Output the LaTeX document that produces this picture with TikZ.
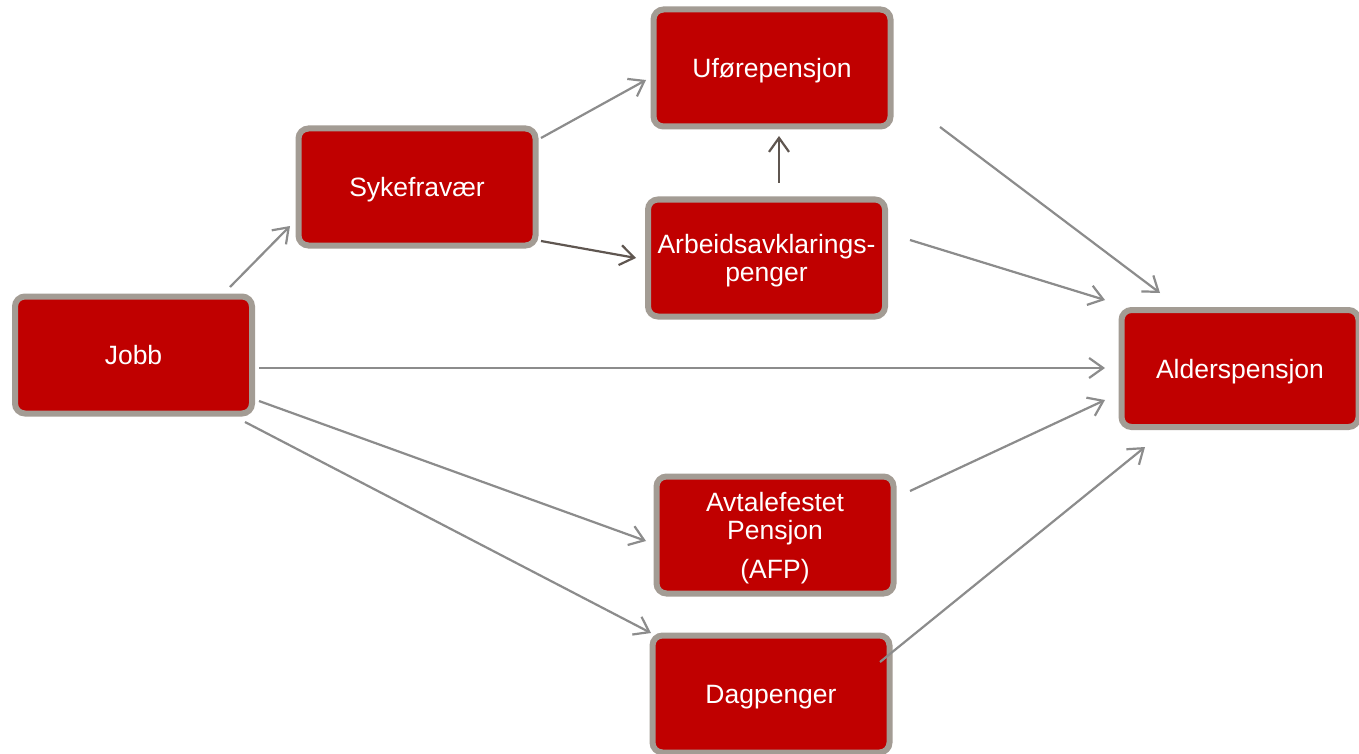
\documentclass[tikz,border=0pt]{standalone}
\usepackage{fontspec}
\setmainfont{Liberation Sans}
\usetikzlibrary{arrows.meta}
\definecolor{boxred}{HTML}{C00000}
\definecolor{boxborder}{HTML}{A39C94}
\definecolor{arrgray}{HTML}{8C8C8C}
\definecolor{arrdark}{HTML}{5F5650}
\begin{document}
\begin{tikzpicture}[x=1pt,y=-1pt,
  box/.style={draw=boxborder, line width=6pt, fill=boxred, rounded corners=10pt,
    minimum width=237pt, minimum height=117pt, inner sep=0pt, text depth=0pt,
    text=white, align=center, font=\fontsize{26.5}{28}\selectfont},
  conn/.style={draw=arrgray, line width=2.2pt, -{Straight Barb[length=14pt,width=20pt,line width=2.2pt]}},
  conndark/.style={conn, draw=arrdark}
]
\useasboundingbox (0,0) rectangle (1359,754);
\fill[white] (0,0) rectangle (1359,754);

\node[box] (ufore) at (772,68) {Uførepensjon};
\node[box] (syke) at (417,187) {Sykefravær};
\node[box] (aap) at (766.5,258) {Arbeidsavklarings-\\penger};
\node[box] (jobb) at (133.5,355) {Jobb};
\node[box] (alder) at (1240,368.5) {Alderspensjon};
\node[box] (afp) at (775,535) {Avtalefestet\\Pensjon\\[11pt](AFP)};
\node[box] (dag) at (771,694) {Dagpenger};

\coordinate (c1a) at (230,287);  \coordinate (c1b) at (290,226);
\coordinate (c2a) at (541,138);  \coordinate (c2b) at (646,80);
\coordinate (c3a) at (541,241);  \coordinate (c3b) at (636,258);
\coordinate (c4a) at (779,183);  \coordinate (c4b) at (779,136);
\coordinate (c5a) at (940,127);  \coordinate (c5b) at (1160,293);
\coordinate (c6a) at (910,240);  \coordinate (c6b) at (1105,300);
\coordinate (c7a) at (259,368);  \coordinate (c7b) at (1105,368);
\coordinate (c8a) at (259,401);  \coordinate (c8b) at (646,541);
\coordinate (c9a) at (245,422);  \coordinate (c9b) at (651,633);
\coordinate (c10a) at (910,491); \coordinate (c10b) at (1105,400);
\coordinate (c11a) at (880,662); \coordinate (c11b) at (1145,447);

\draw[conn] (c1a) -- (c1b);
\draw[conn] (c2a) -- (c2b);
\draw[conndark] (c3a) -- (c3b);
\draw[conndark] (c4a) -- (c4b);
\draw[conn] (c5a) -- (c5b);
\draw[conn] (c6a) -- (c6b);
\draw[conn] (c7a) -- (c7b);
\draw[conn] (c8a) -- (c8b);
\draw[conn] (c9a) -- (c9b);
\draw[conn] (c10a) -- (c10b);
\draw[conn] (c11a) -- (c11b);
\end{tikzpicture}
\end{document}
